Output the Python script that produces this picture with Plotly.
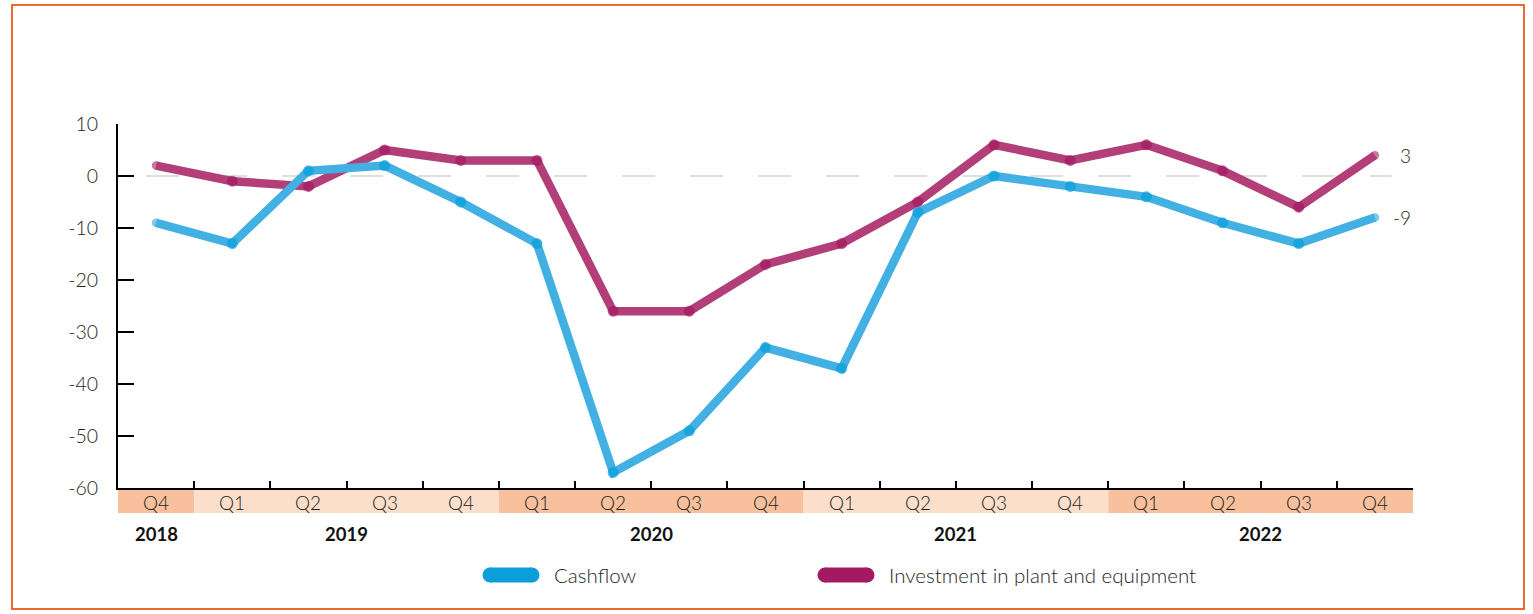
import plotly.graph_objects as go

quarters = ["Q4", "Q1", "Q2", "Q3", "Q4", "Q1", "Q2", "Q3", "Q4",
            "Q1", "Q2", "Q3", "Q4", "Q1", "Q2", "Q3", "Q4"]
years = ["2018", "2019", "2020", "2021", "2022"]
year_quarter_counts = [1, 4, 4, 4, 4]
cashflow = [-9, -13, 1, 2, -5, -13, -57, -49, -33, -37, -7, 0, -2, -4, -9, -13, -8]
investment = [2, -1, -2, 5, 3, 3, -26, -26, -17, -13, -5, 6, 3, 6, 1, -6, 4]
end_labels = {"investment": "3", "cashflow": "-9"}
series_names = ["Cashflow", "Investment in plant and equipment"]
y_tick_values = [-60, -50, -40, -30, -20, -10, 0, 10]
y_tick_labels = ["-60", "-50", "-40", "-30", "-20", "-10", "0", "10"]

W, H = 1533, 614
ML, MR, MT, MB = 118, 120, 124, 126
PW, PH = W - ML - MR, H - MT - MB


def px_x(px):
    return (px - ML) / PW


def px_y(py):
    return (H - MB - py) / PH


CASH_LINE, CASH_MARK = "#42B0E3", "#0A9FDA"
INV_LINE, INV_MARK = "#B23F78", "#A31A62"
BAND_DARK, BAND_LIGHT = "#F9C09D", "#FCDFCB"
TEXT = "#1E1E1E"
FONT = "Lato"

n = len(quarters)
xs = list(range(n))


def marker_props(line_col, mark_col):
    cols = [mark_col] * n
    sizes = [11] * n
    cols[0] = cols[-1] = line_col
    sizes[0] = sizes[-1] = 8.5
    return dict(color=cols, size=sizes, line=dict(width=0))


fig = go.Figure()
fig.add_trace(go.Scatter(x=xs, y=investment, mode="lines+markers",
                         line=dict(color=INV_LINE, width=8.5),
                         marker=marker_props(INV_LINE, INV_MARK),
                         name=series_names[1], showlegend=False, hoverinfo="skip"))
fig.add_trace(go.Scatter(x=xs, y=cashflow, mode="lines+markers",
                         line=dict(color=CASH_LINE, width=8.5),
                         marker=marker_props(CASH_LINE, CASH_MARK),
                         name=series_names[0], showlegend=False, hoverinfo="skip"))

shapes = []
# zero dashed line
shapes.append(dict(type="line", xref="x", yref="y", x0=-0.13, x1=16.22, y0=0, y1=0,
                   line=dict(color="#D3D3D3", width=1.5, dash="33px,35px"), layer="below"))

# quarter band
idx = 0
for yi, (yr, cnt) in enumerate(zip(years, year_quarter_counts)):
    col = BAND_DARK if yi % 2 == 0 else BAND_LIGHT
    shapes.append(dict(type="rect", xref="x", yref="paper", ysizemode="pixel", yanchor=0,
                       x0=idx - 0.5, x1=idx + cnt - 0.5, y0=-1, y1=-25,
                       fillcolor=col, line=dict(width=0), layer="below"))
    idx += cnt

# border
shapes.append(dict(type="rect", xref="paper", yref="paper",
                   x0=px_x(12), x1=px_x(1524), y0=px_y(609), y1=px_y(5),
                   line=dict(color="#EB6A2F", width=2)))

annotations = []
for i, q in enumerate(quarters):
    annotations.append(dict(x=i, y=0, xref="x", yref="paper", text=q, showarrow=False,
                            yshift=-14, yanchor="middle",
                            font=dict(family=FONT, size=19, color=TEXT, weight=300)))
idx = 0
for yr, cnt in zip(years, year_quarter_counts):
    annotations.append(dict(x=idx + (cnt - 1) / 2, y=0, xref="x", yref="paper", text="<b>" + yr + "</b>",
                            showarrow=False, yshift=-46, yanchor="middle",
                            font=dict(family=FONT, size=18.5, color="#111111")))
    idx += cnt

# end labels
annotations.append(dict(x=n - 1, y=investment[-1], xref="x", yref="y", text=end_labels["investment"],
                        showarrow=False, xanchor="right", xshift=38, yanchor="middle",
                        font=dict(family=FONT, size=19, color=TEXT, weight=300)))
annotations.append(dict(x=n - 1, y=cashflow[-1], xref="x", yref="y", text=end_labels["cashflow"],
                        showarrow=False, xanchor="right", xshift=38, yanchor="middle",
                        font=dict(family=FONT, size=19, color=TEXT, weight=300)))

# custom legend
legend_items = [(series_names[0], CASH_MARK, 511, 552), (series_names[1], INV_MARK, 846, 887)]
for name, col, cx, tx in legend_items:
    ax, ay = px_x(cx), px_y(575)
    hw, r = 21, 7.5
    shapes.append(dict(type="rect", xref="paper", yref="paper", xsizemode="pixel", ysizemode="pixel",
                       xanchor=ax, yanchor=ay, x0=-hw, x1=hw, y0=-r, y1=r,
                       fillcolor=col, line=dict(width=0)))
    for sx in (-hw, hw):
        shapes.append(dict(type="circle", xref="paper", yref="paper", xsizemode="pixel", ysizemode="pixel",
                           xanchor=ax, yanchor=ay, x0=sx - r, x1=sx + r, y0=-r, y1=r,
                           fillcolor=col, line=dict(width=0)))
    annotations.append(dict(x=px_x(tx), y=ay, xref="paper", yref="paper", text=name, showarrow=False,
                            xanchor="left", yanchor="middle",
                            font=dict(family=FONT, size=20.5, color=TEXT, weight=300)))

fig.update_layout(
    width=W, height=H, autosize=False,
    margin=dict(l=ML, r=MR, t=MT, b=MB),
    paper_bgcolor="white", plot_bgcolor="white",
    shapes=shapes, annotations=annotations,
    showlegend=False,
    xaxis=dict(range=[-0.5, n - 0.5], showgrid=False, zeroline=False,
               showline=True, linecolor="black", linewidth=2,
               tickmode="array", tickvals=[i + 0.5 for i in range(n)],
               ticks="inside", ticklen=7, tickwidth=1.5, tickcolor="black",
               showticklabels=False),
    yaxis=dict(range=[-60, 10], showgrid=False, zeroline=False,
               showline=True, linecolor="black", linewidth=2,
               tickmode="array", tickvals=y_tick_values, ticktext=y_tick_labels,
               ticks="inside", ticklen=16, tickwidth=2, tickcolor="black",
               ticklabelstandoff=14,
               tickfont=dict(family=FONT, size=19.5, color=TEXT, weight=300)),
)

fig.write_html("out.html", config={"displayModeBar": False},
               post_script="document.body.style.margin='0';document.body.style.overflow='hidden';")
